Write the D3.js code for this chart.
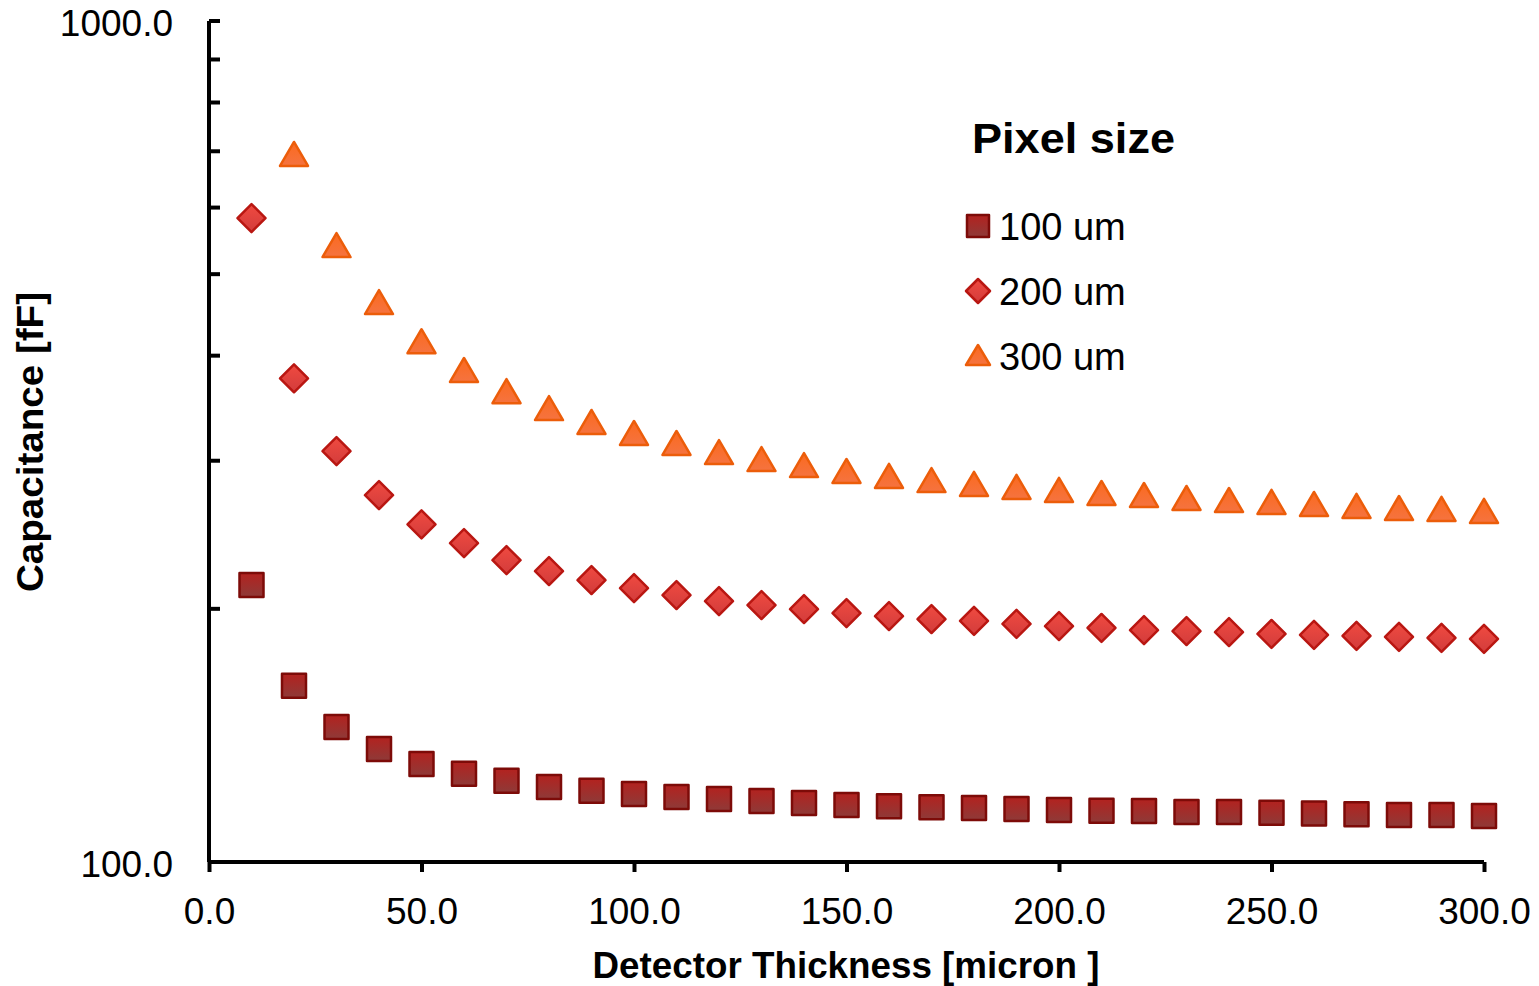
<!DOCTYPE html>
<html>
<head>
<meta charset="utf-8">
<script src="https://cdn.jsdelivr.net/npm/d3@7"></script>
<style>
  body { margin: 0; background: #fff; }
  svg text { font-family: "Century Gothic", "Liberation Sans", Arial, sans-serif; fill: #000; }
</style>
</head>
<body>
<div id="chart"></div>
<script>
// thickness in micron
const thickness = [10, 20, 30, 40, 50, 60, 70, 80, 90, 100, 110, 120, 130, 140, 150,
  160, 170, 180, 190, 200, 210, 220, 230, 240, 250, 260, 270, 280, 290, 300];

// capacitance [fF] per pixel size
const cap100 = [213.5, 162.0, 144.7, 136.3, 130.8, 127.3, 124.9, 122.8, 121.5, 120.5,
  119.5, 118.8, 118.2, 117.5, 116.9, 116.5, 116.2, 115.9, 115.6, 115.3,
  115.1, 115.0, 114.7, 114.7, 114.4, 114.2, 114.0, 113.7, 113.7, 113.4];
const cap200 = [583, 376, 308, 273, 252, 239.4, 228.5, 221.8, 216.4, 211.7,
  207.7, 204.3, 202.1, 199.9, 197.7, 196.1, 194.5, 193.5, 191.9, 190.8,
  189.8, 188.7, 188.2, 187.7, 186.7, 186.2, 185.7, 185.2, 184.7, 184.2];
// the 10 micron point of the 300 um pixel lies above the plotted range
const cap300 = [null, 693, 540, 462, 415, 383.6, 362, 345.6, 332.7, 322.8,
  314.1, 306.4, 300.6, 295.7, 290.9, 287.0, 283.8, 280.8, 278.5, 276.2,
  273.9, 272.4, 270.2, 268.7, 267.3, 265.8, 264.4, 262.9, 262.2, 260.8];

const seriesNames = ["100 um", "200 um", "300 um"];
const xTicks = [0, 50, 100, 150, 200, 250, 300];
const yMajor = [100, 1000];
const yMinor = [200, 300, 400, 500, 600, 700, 800, 900];

const width = 1539, height = 986;
const margin = {top: 21, right: 55, bottom: 124, left: 209};

const svg = d3.select("#chart").append("svg")
  .attr("width", width)
  .attr("height", height);

const defs = svg.append("defs");
function grad(id, c1, c2) {
  const g = defs.append("linearGradient").attr("id", id)
    .attr("x1", 0).attr("y1", 0).attr("x2", 0).attr("y2", 1);
  g.append("stop").attr("offset", "0%").attr("stop-color", c1);
  g.append("stop").attr("offset", "100%").attr("stop-color", c2);
}
grad("gSq", "#b3221f", "#8e3a38");
grad("gDi", "#f04a40", "#d23c3c");
grad("gTr", "#fb6a1e", "#f57340");

const styles = [
  {shape: "square", fill: "url(#gSq)", stroke: "#7d0b08", size: 26},
  {shape: "diamond", fill: "url(#gDi)", stroke: "#b91712", size: 28},
  {shape: "triangle", fill: "url(#gTr)", stroke: "#ec5d0a", size: 28}
];

function markerPath(shape, s) {
  const h = s / 2;
  if (shape === "square") return `M${-h + 1},${-h + 1}H${h - 1}V${h - 1}H${-h + 1}Z`;
  if (shape === "diamond") return `M0,${-h}L${h},0L0,${h}L${-h},0Z`;
  return `M0,${-h + 1}L${h},${h - 3}L${-h},${h - 3}Z`;
}

const x = d3.scaleLinear().domain([0, 300]).range([margin.left, width - margin.right]);
const y = d3.scaleLog().domain([100, 1000]).range([height - margin.bottom, margin.top]);

// x axis
const xAxis = svg.append("g")
  .attr("transform", `translate(0,${y(100)})`)
  .call(d3.axisBottom(x).tickValues(xTicks).tickSize(10).tickPadding(26)
    .tickFormat(d3.format(".1f")));
xAxis.select(".domain").attr("stroke-width", 4).attr("d", `M${x(0)},0H${x(300)}`);
xAxis.selectAll(".tick line").attr("stroke-width", 4);
xAxis.selectAll(".tick text").style("font-size", "37px").attr("dy", "0.71em");

// y axis
const yAxis = svg.append("g")
  .attr("transform", `translate(${x(0)},0)`)
  .call(d3.axisLeft(y).tickValues(yMajor).tickSize(0).tickPadding(36)
    .tickFormat(d3.format(".1f")));
yAxis.select(".domain").attr("stroke-width", 4).attr("d", `M0,${y(1000)}V${y(100)}`);
yAxis.selectAll(".tick text").style("font-size", "37px").attr("dy", "0.4em");

svg.append("g").selectAll("line")
  .data(yMajor.concat(yMinor))
  .join("line")
  .attr("x1", x(0)).attr("x2", x(0) + 11)
  .attr("y1", d => y(d)).attr("y2", d => y(d))
  .attr("stroke", "#000").attr("stroke-width", 4);

// axis titles
svg.append("text")
  .attr("x", 846)
  .attr("y", 978)
  .attr("text-anchor", "middle")
  .attr("textLength", 507).attr("lengthAdjust", "spacingAndGlyphs")
  .style("font-size", "36px").style("font-weight", "bold")
  .text("Detector Thickness [micron ]");

svg.append("text")
  .attr("transform", `translate(43,${442}) rotate(-90)`)
  .attr("text-anchor", "middle")
  .attr("textLength", 300).attr("lengthAdjust", "spacingAndGlyphs")
  .style("font-size", "37px").style("font-weight", "bold")
  .text("Capacitance [fF]");

// series
const allSeries = [cap100, cap200, cap300];
allSeries.forEach((vals, i) => {
  const st = styles[i];
  svg.append("g").selectAll("path")
    .data(thickness.map((t, j) => ({t: t, v: vals[j]})).filter(d => d.v != null))
    .join("path")
    .attr("transform", d => `translate(${x(d.t)},${y(d.v)})`)
    .attr("d", markerPath(st.shape, st.size))
    .attr("fill", st.fill)
    .attr("stroke", st.stroke)
    .attr("stroke-width", 2.5)
    .attr("stroke-linejoin", "round");
});

// legend
const legend = svg.append("g").attr("transform", "translate(972,0)");
legend.append("text")
  .attr("x", 0).attr("y", 153)
  .attr("textLength", 203).attr("lengthAdjust", "spacingAndGlyphs")
  .style("font-size", "43px").style("font-weight", "bold")
  .text("Pixel size");
seriesNames.forEach((name, i) => {
  const st = styles[i];
  const cy = 226 + i * 65;
  legend.append("path")
    .attr("transform", `translate(6,${cy})`)
    .attr("d", markerPath(st.shape, 24))
    .attr("fill", st.fill)
    .attr("stroke", st.stroke)
    .attr("stroke-width", 2.5)
    .attr("stroke-linejoin", "round");
  legend.append("text")
    .attr("x", 27).attr("y", cy)
    .attr("dy", "0.36em")
    .style("font-size", "38px")
    .text(name);
});
</script>
</body>
</html>
